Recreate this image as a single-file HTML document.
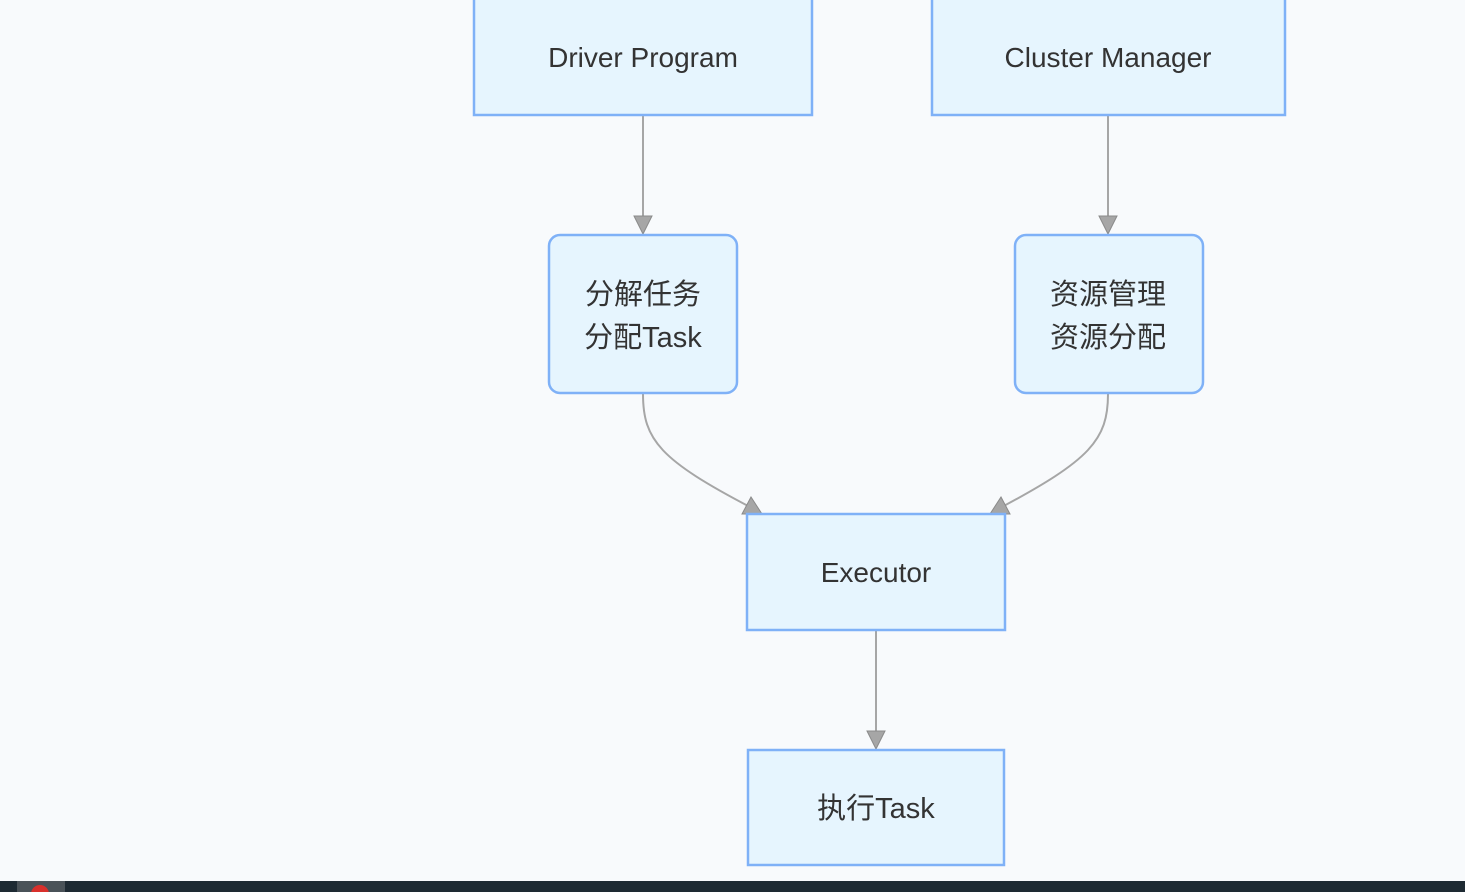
<!DOCTYPE html>
<html><head><meta charset="utf-8"><style>
html,body{margin:0;padding:0;width:1465px;height:892px;overflow:hidden;background:#f8fafc}
svg{display:block}
text{font-family:"Liberation Sans","Noto Sans CJK SC",sans-serif;font-size:28px;fill:#333;text-anchor:middle}
text.c{font-size:29px}
</style></head><body>
<svg width="1465" height="892" viewBox="0 0 1465 892">
<rect x="0" y="0" width="1465" height="892" fill="#f8fafc"/>
<g stroke="#a6a6a6" stroke-width="2" fill="none">
<path d="M643 115 V222"/>
<path d="M1108 115 V222"/>
<path d="M876 630 V738"/>
<path d="M643 394 C643 440 660 460 752 508"/>
<path d="M1108 394 C1108 440 1090 460 1000 508"/>
</g>
<g fill="#a6a6a6" stroke="#8a8a8a" stroke-width="1">
<polygon points="634,216 652,216 643,234"/>
<polygon points="1099,216 1117,216 1108,234"/>
<polygon points="867,731 885,731 876,749"/>
<polygon points="742,514 762,514 751,497"/>
<polygon points="990,514 1010,514 1001,497"/>
</g>
<g fill="#e6f5fe" stroke="#7fb1f7" stroke-width="2.5">
<rect x="474" y="-2" width="338" height="117"/>
<rect x="932" y="-2" width="353" height="117"/>
<rect x="549" y="235" width="188" height="158" rx="11"/>
<rect x="1015" y="235" width="188" height="158" rx="11"/>
<rect x="747" y="514" width="258" height="116"/>
<rect x="748" y="750" width="256" height="115"/>
</g>
<text x="643" y="67">Driver Program</text>
<text x="1108" y="67">Cluster Manager</text>
<text class="c" x="643" y="304">分解任务</text>
<text class="c" x="643" y="347">分配Task</text>
<text class="c" x="1108" y="304">资源管理</text>
<text class="c" x="1108" y="347">资源分配</text>
<text x="876" y="582">Executor</text>
<text class="c" x="876" y="818">执行Task</text>
<rect x="0" y="881" width="1465" height="11" fill="#1e2a33"/>
<rect x="17" y="881" width="48" height="11" fill="#4a5258"/>
<circle cx="40" cy="894" r="9" fill="#d9302c"/>
</svg>
</body></html>
